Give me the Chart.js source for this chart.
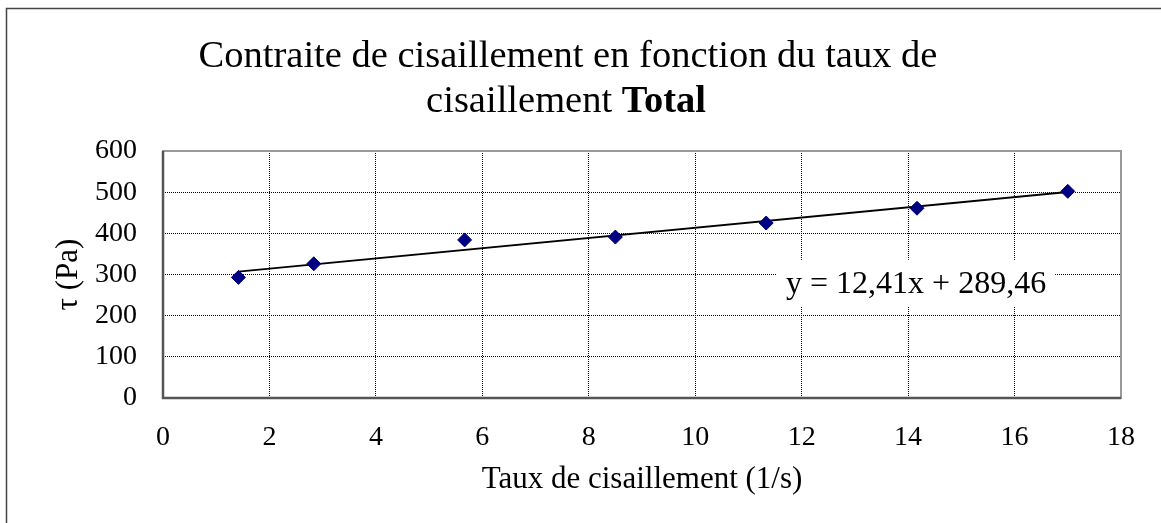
<!DOCTYPE html>
<html lang="fr">
<head>
<meta charset="utf-8">
<title>Contraite de cisaillement</title>
<script src="https://cdn.jsdelivr.net/npm/chart.js@4/dist/chart.umd.min.js"></script>
<style>
  html, body { margin: 0; padding: 0; background: #fff; }
  #wrap { width: 1161px; height: 523px; }
</style>
</head>
<body>
<div id="wrap"><canvas id="c" width="1161" height="523"></canvas></div>
<script>
// Mesures : taux de cisaillement (1/s) et contrainte (Pa)
const shearRate = [1.417, 2.833, 5.667, 8.5, 11.333, 14.167, 17.0];
const shearStress = [293, 326, 384, 391, 425, 461, 502];

// Droite de régression affichée sur le graphique
const trendSlope = 12.41;
const trendIntercept = 289.46;
const trendLabel = 'y = 12,41x + 289,46';
const trendLabelAt = { x: 14.15, y: 275 };

// Axes
const xTicks = [0, 2, 4, 6, 8, 10, 12, 14, 16, 18];
const yTicks = [0, 100, 200, 300, 400, 500, 600];

const titleLine1 = 'Contraite de cisaillement en fonction du taux de';
const titleLine2a = 'cisaillement ';
const titleLine2b = 'Total';
const xTitle = 'Taux de cisaillement (1/s)';
const yTitle = 'τ (Pa)';

const SERIF = "'Liberation Serif', 'Times New Roman', serif";

const points = shearRate.map((x, i) => ({ x: x, y: shearStress[i] }));
const xFirst = shearRate[0];
const xLast = shearRate[shearRate.length - 1];
const trendPoints = [
  { x: xFirst, y: trendSlope * xFirst + trendIntercept },
  { x: xLast, y: trendSlope * xLast + trendIntercept }
];

// Cadre extérieur, titre, cadre de la zone de tracé et étiquette de l'équation
const decor = {
  id: 'decor',
  beforeDraw(chart) {
    const ctx = chart.ctx;
    ctx.save();
    ctx.fillStyle = '#fff';
    ctx.fillRect(0, 0, chart.width, chart.height);
    ctx.strokeStyle = '#444';
    ctx.lineWidth = 1.5;
    ctx.beginPath();
    ctx.moveTo(6.5, chart.height);
    ctx.lineTo(6.5, 8.5);
    ctx.lineTo(chart.width, 8.5);
    ctx.stroke();

    // Titre sur deux lignes, « Total » en gras
    ctx.fillStyle = '#000';
    ctx.textBaseline = 'alphabetic';
    ctx.textAlign = 'center';
    ctx.font = '38.5px ' + SERIF;
    ctx.fillText(titleLine1, 568, 67);
    ctx.textAlign = 'left';
    const wA = ctx.measureText(titleLine2a).width;
    ctx.font = 'bold 38.5px ' + SERIF;
    const wB = ctx.measureText(titleLine2b).width;
    const start = 566 - (wA + wB) / 2;
    ctx.font = '38.5px ' + SERIF;
    ctx.fillText(titleLine2a, start, 112);
    ctx.font = 'bold 38.5px ' + SERIF;
    ctx.fillText(titleLine2b, start + wA, 112);
    ctx.restore();
  },
  beforeDatasetsDraw(chart) {
    const ctx = chart.ctx;
    const a = chart.chartArea;
    ctx.save();
    // cadre de la zone de tracé
    ctx.lineWidth = 2;
    ctx.strokeStyle = '#999';
    ctx.strokeRect(a.left, a.top, a.right - a.left, a.bottom - a.top);
    ctx.strokeStyle = '#555';
    ctx.lineWidth = 2.5;
    ctx.beginPath();
    ctx.moveTo(a.left, a.top);
    ctx.lineTo(a.left, a.bottom);
    ctx.lineTo(a.right, a.bottom);
    ctx.stroke();

    // étiquette de l'équation sur fond blanc
    const xs = chart.scales.x, ys = chart.scales.y;
    const cx = xs.getPixelForValue(trendLabelAt.x);
    const cy = ys.getPixelForValue(trendLabelAt.y);
    ctx.font = '32px ' + SERIF;
    const w = ctx.measureText(trendLabel).width;
    const bw = w + 18, bh = 47;
    ctx.fillStyle = '#fff';
    ctx.fillRect(cx - bw / 2, cy - bh / 2 - 1.5, bw, bh);
    ctx.fillStyle = '#000';
    ctx.textAlign = 'center';
    ctx.textBaseline = 'middle';
    ctx.fillText(trendLabel, cx, cy);
    ctx.restore();
  }
};

new Chart(document.getElementById('c'), {
  type: 'scatter',
  data: {
    datasets: [
      {
        label: 'Mesures',
        data: points,
        pointStyle: 'rectRot',
        pointRadius: 7,
        pointHoverRadius: 7,
        backgroundColor: '#000080',
        borderColor: '#000080',
        borderWidth: 1,
        order: 1
      },
      {
        type: 'line',
        label: 'Linéaire',
        data: trendPoints,
        borderColor: '#000',
        borderWidth: 1.8,
        pointRadius: 0,
        fill: false,
        tension: 0,
        order: 2
      }
    ]
  },
  options: {
    responsive: false,
    animation: false,
    layout: { padding: { left: 0, top: 151, right: 40, bottom: 0 } },
    plugins: {
      legend: { display: false },
      title: { display: false },
      tooltip: { enabled: false }
    },
    scales: {
      x: {
        type: 'linear',
        min: 0,
        max: 18,
        afterFit(scale) { scale.height = 125; },
        afterBuildTicks(scale) { scale.ticks = xTicks.map(v => ({ value: v })); },
        border: { display: false, dash: [1, 1] },
        grid: { color: '#000', lineWidth: 1, drawTicks: false },
        ticks: {
          color: '#000',
          padding: 23,
          font: { family: SERIF, size: 28 },
          callback: v => String(v)
        },
        title: {
          display: true,
          text: xTitle,
          color: '#000',
          font: { family: SERIF, size: 31 },
          padding: { top: 0, bottom: 25 }
        }
      },
      y: {
        type: 'linear',
        min: 0,
        max: 600,
        afterFit(scale) { scale.width = 163; },
        afterBuildTicks(scale) { scale.ticks = yTicks.map(v => ({ value: v })); },
        border: { display: false, dash: [1, 1] },
        grid: { color: '#000', lineWidth: 1, drawTicks: false },
        ticks: {
          color: '#000',
          padding: 26,
          font: { family: SERIF, size: 28 },
          callback: v => String(v)
        },
        title: {
          display: true,
          text: yTitle,
          color: '#000',
          font: { family: SERIF, size: 31 },
          padding: { top: 50, bottom: 0 }
        }
      }
    }
  },
  plugins: [decor]
});
</script>
</body>
</html>
